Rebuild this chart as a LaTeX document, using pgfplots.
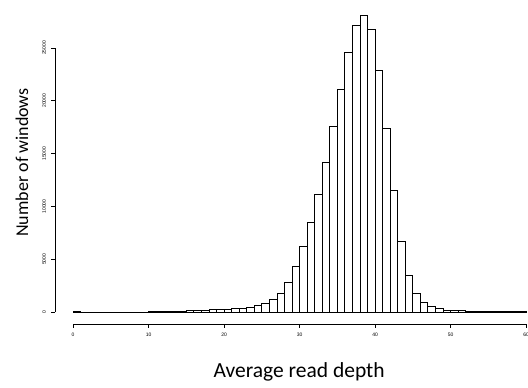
\documentclass[border=0pt]{standalone}
\usepackage{fontspec}
\setmainfont{Liberation Sans}
\newfontfamily\calfont{Carlito}
\usepackage{pgfplots}
\pgfplotsset{compat=1.18}
\begin{document}
\begin{tikzpicture}[x=1pt,y=1pt]
\begin{axis}[
  at={(55pt,64.1pt)}, anchor=south west,
  scale only axis, width=489.2pt, height=320.5pt,
  xmin=-2.4, xmax=62.4, ymin=-1124, ymax=29224,
  axis x line*=bottom, axis y line*=left,
  axis line style={draw=none},
  tick align=outside, major tick length=3.8pt,
  xtick={0,10,...,60}, ytick={0,5000,...,25000},
  minor tick num=0,
  tick style={black, line width=0.7pt},
  scaled ticks=false,
  /pgf/number format/1000 sep={},
  /pgf/number format/assume math mode=true,
  ticklabel style={font=\fontsize{5}{6}\selectfont},
  yticklabel style={rotate=90, anchor=south, inner sep=5pt},
  xticklabel style={inner sep=5pt},
  xlabel={Average read depth},
  ylabel={Number of windows},
  xlabel style={at={(rel axis cs:0.499,-0.150)}, anchor=center, font=\calfont\fontsize{21.5}{24}\selectfont},
  ylabel style={at={(rel axis cs:-0.0675,0.5036)}, anchor=center, rotate=0, font=\calfont\fontsize{18}{20}\selectfont},
  clip=false,
]
\addplot[ybar interval, fill=white, draw=black, line width=0.9pt] coordinates {
(0,80) (1,0) (2,0) (3,0) (4,0) (5,0) (6,0) (7,0) (8,0) (9,0)
(10,60) (11,60) (12,60) (13,60) (14,60)
(15,190) (16,190) (17,190) (18,280) (19,280) (20,280)
(21,380) (22,380) (23,470) (24,600) (25,850) (26,1230)
(27,1770) (28,2810) (29,4290) (30,6180) (31,8490) (32,11150)
(33,14140) (34,17550) (35,21090) (36,24590) (37,27150) (38,28100)
(39,26770) (40,22850) (41,17420) (42,11490) (43,6720) (44,3440)
(45,1770) (46,920) (47,540) (48,310) (49,190) (50,120)
(51,120) (52,95) (53,60) (54,60) (55,60) (56,60) (57,60) (58,60) (59,60)
(60,0)
};
\draw[line width=0.7pt] (axis cs:-2.4,0) -- (axis cs:-2.4,25000);
\draw[line width=0.7pt] (axis cs:0,-1124) -- (axis cs:60,-1124);
\end{axis}
\pgfresetboundingbox
\useasboundingbox (0,0) rectangle (528,388);
\end{tikzpicture}
\end{document}
